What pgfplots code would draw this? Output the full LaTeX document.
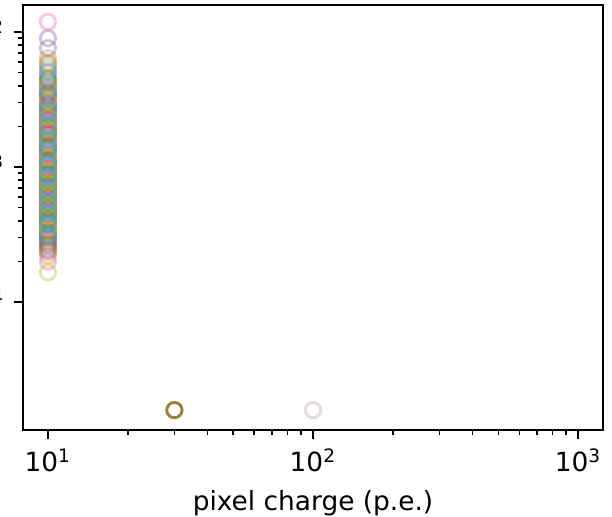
\documentclass[border=0pt]{standalone}
\usepackage{fontspec}
\setmainfont{DejaVu Sans}
\usepackage{pgfplots}
\pgfplotsset{compat=1.18}

\definecolor{tabblue}{HTML}{1F77B4}
\definecolor{taborange}{HTML}{FF7F0E}
\definecolor{tabgreen}{HTML}{2CA02C}
\definecolor{tabred}{HTML}{D62728}
\definecolor{tabpurple}{HTML}{9467BD}
\definecolor{tabbrown}{HTML}{8C564B}
\definecolor{tabpink}{HTML}{E377C2}
\definecolor{tabgray}{HTML}{7F7F7F}
\definecolor{tabolive}{HTML}{BCBD22}
\definecolor{tabcyan}{HTML}{17BECF}
\definecolor{darkolive}{RGB}{155,128,60}
\definecolor{palepink}{RGB}{232,218,218}

\pgfplotsset{
  pix/.style={only marks, mark=o, mark size=2.9pt,
    mark options={line width=1.1pt, draw=#1, draw opacity=0.4}},
}

\begin{document}
\begin{tikzpicture}
\begin{axis}[
  scale only axis,
  width=219.7pt, height=161pt,
  xmode=log, ymode=log,
  xmin=8.05, xmax=1242,
  ymin=1.127e-5, ymax=0.01585,
  axis line style={line width=0.8pt},
  tick align=outside,
  xtick pos=bottom, ytick pos=left,
  major tick length=3.5pt, minor tick length=2pt,
  every major tick/.style={line width=0.8pt, black},
  every minor tick/.style={line width=0.6pt, black},
  xtick={10,100,1000},
  xticklabels={10\textsuperscript{1},10\textsuperscript{2},10\textsuperscript{3}},
  ytick={1e-4,1e-3,1e-2},
  yticklabels={10\textsuperscript{−4},10\textsuperscript{−3},10\textsuperscript{−2}},
  ticklabel style={font=\fontsize{10}{12}\selectfont},
  xlabel={pixel charge (p.e.)},
  label style={font=\fontsize{10}{12}\selectfont},
  clip=false,
]
\addplot[pix=tabblue] coordinates {
  (10,4.2e-3)(10,3.0e-3)(10,2.4e-3)(10,1.9e-3)(10,1.5e-3)(10,1.25e-3)(10,1.05e-3)
  (10,8.8e-4)(10,7.2e-4)(10,6.0e-4)(10,5.0e-4)(10,4.1e-4)(10,3.4e-4)
};
\addplot[pix=taborange] coordinates {
  (10,5.5e-3)(10,3.6e-3)(10,2.7e-3)(10,2.1e-3)(10,1.6e-3)(10,1.3e-3)(10,1.0e-3)
  (10,8.0e-4)(10,6.5e-4)(10,5.3e-4)(10,4.4e-4)(10,3.5e-4)(10,2.9e-4)(10,2.2e-4)
};
\addplot[pix=tabgreen] coordinates {
  (10,4.6e-3)(10,3.3e-3)(10,2.5e-3)(10,2.0e-3)(10,1.7e-3)(10,1.4e-3)(10,1.1e-3)
  (10,9.2e-4)(10,7.5e-4)(10,6.2e-4)(10,5.1e-4)(10,4.0e-4)(10,3.1e-4)(10,2.6e-4)
};
\addplot[pix=tabred] coordinates {
  (10,3.9e-3)(10,2.9e-3)(10,2.2e-3)(10,1.8e-3)(10,1.45e-3)(10,1.15e-3)(10,9.6e-4)
  (10,7.8e-4)(10,6.4e-4)(10,5.4e-4)(10,4.5e-4)(10,3.7e-4)(10,3.0e-4)(10,2.45e-4)
};
\addplot[pix=tabpurple] coordinates {
  (10,9.0e-3)(10,5.0e-3)(10,3.4e-3)(10,2.6e-3)(10,2.0e-3)(10,1.55e-3)(10,1.2e-3)
  (10,9.8e-4)(10,8.2e-4)(10,6.8e-4)(10,5.6e-4)(10,4.6e-4)(10,3.8e-4)(10,2.8e-4)
};
\addplot[pix=tabbrown] coordinates {
  (10,4.4e-3)(10,3.5e-3)(10,2.8e-3)(10,2.3e-3)(10,1.75e-3)(10,1.35e-3)(10,1.08e-3)
  (10,8.6e-4)(10,7.0e-4)(10,5.8e-4)(10,4.8e-4)(10,4.2e-4)(10,3.3e-4)(10,2.7e-4)
};
\addplot[pix=tabpink] coordinates {
  (10,1.19e-2)(10,6.4e-3)(10,3.8e-3)(10,2.75e-3)(10,2.15e-3)(10,1.65e-3)(10,1.28e-3)
  (10,1.02e-3)(10,8.4e-4)(10,6.9e-4)(10,5.7e-4)(10,4.7e-4)(10,3.6e-4)(10,2.0e-4)
};
\addplot[pix=tabgray] coordinates {
  (10,7.6e-3)(10,5.8e-3)(10,3.2e-3)(10,2.45e-3)(10,1.85e-3)(10,1.42e-3)(10,1.12e-3)
  (10,9.0e-4)(10,7.3e-4)(10,6.1e-4)(10,4.9e-4)(10,3.9e-4)(10,3.2e-4)(10,2.35e-4)
};
\addplot[pix=tabolive] coordinates {
  (10,6.0e-3)(10,4.0e-3)(10,3.1e-3)(10,2.35e-3)(10,1.9e-3)(10,1.5e-3)(10,1.18e-3)
  (10,9.4e-4)(10,7.7e-4)(10,6.3e-4)(10,5.2e-4)(10,4.3e-4)(10,3.45e-4)(10,1.66e-4)
};
\addplot[pix=tabcyan] coordinates {
  (10,5.2e-3)(10,3.7e-3)(10,2.65e-3)(10,2.05e-3)(10,1.6e-3)(10,1.32e-3)(10,1.04e-3)
  (10,8.5e-4)(10,6.7e-4)(10,5.5e-4)(10,4.55e-4)(10,3.75e-4)(10,3.05e-4)
};
\addplot[only marks, mark=o, mark size=2.9pt, mark options={line width=1.1pt, draw=darkolive}]
  coordinates {(30,1.585e-5)};
\addplot[only marks, mark=o, mark size=2.9pt, mark options={line width=1.1pt, draw=palepink}]
  coordinates {(100,1.585e-5)};
\end{axis}
\pgfresetboundingbox
\useasboundingbox ([xshift=-8.7pt,yshift=1.9pt]current axis.north west)
  rectangle ([xshift=3.4pt,yshift=-32.6pt]current axis.south east);
\end{tikzpicture}
\end{document}
